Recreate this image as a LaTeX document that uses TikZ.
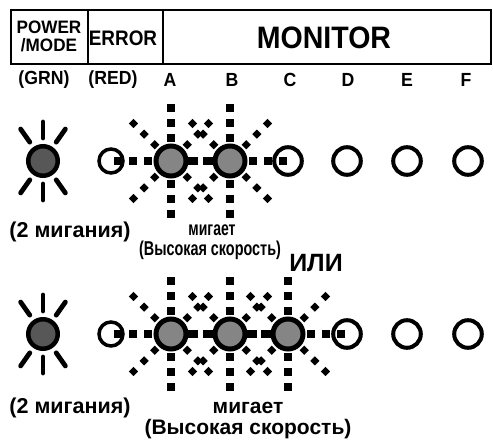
\documentclass[tikz,border=0pt]{standalone}
\usepackage{fontspec}
\setmainfont{Liberation Sans}
\usepackage{graphicx}
\usepackage{xcolor}

\definecolor{ledgray}{HTML}{858585}
\definecolor{grndark}{HTML}{575757}

\pgfdeclarelayer{back}
\pgfsetlayers{back,main}

\newcommand{\fsz}[1]{\fontsize{#1}{#1}\selectfont\bfseries}
\newcommand{\narrow}[2]{\scalebox{#1}[1]{#2}}
% slow blink: six short strokes
\newcommand{\slowrays}[1]{%
  \foreach \a in {55,90,125,235,270,305}
    {\draw[ray] ([shift={(\a:23)}]#1.center) -- ([shift={(\a:39)}]#1.center);}}
% fast blink: dotted star
\newcommand{\fastrays}[1]{%
  \foreach \d in {23,38,53}{
    \foreach \a in {0,90,180,270}
      {\node[sqdot] at ([shift={(\a:\d)}]#1.center) {};}
    \foreach \a in {45,135,225,315}
      {\node[dmdot] at ([shift={(\a:\d)}]#1.center) {};}
  }}

\begin{document}
\begin{tikzpicture}[x=1pt,y=-1pt,
  ledoff/.style={circle,draw,line width=4pt,minimum size=27.6pt,inner sep=0pt},
  ledred/.style={ledoff,line width=3.5pt,minimum size=24pt},
  ledon/.style={ledoff,line width=5pt,minimum size=30pt,fill=ledgray},
  ledgrn/.style={ledoff,line width=4.5pt,minimum size=29.5pt,fill=grndark},
  ray/.style={line width=4.8pt,line cap=round},
  sqdot/.style={fill,inner sep=0pt,minimum size=8pt},
  dmdot/.style={sqdot,minimum size=6.5pt,rotate=45},
  lbl/.style={font=\fsz{19}},
  txt/.style={inner sep=0.5pt}]
\useasboundingbox (0,0) rectangle (493,441);
% header
\draw[line width=2pt] (11,10) rectangle (491,64);
\draw[line width=1.2pt] (88,10) -- (88,64) (163,10) -- (163,64);
\node[font=\fsz{18},align=center] (pwr) at (49,36) {\narrow{0.95}{POWER}\\\narrow{0.95}{/MODE}};
\node[font=\fsz{21}] (err) at (123,38) {\narrow{0.9}{ERROR}};
\node[font=\fsz{31}] (mon) at (324,38) {\narrow{0.92}{MONITOR}};
\foreach \n/\x/\t in {grn/44/{(GRN)},red/113/{(RED)},A/170/A,B/232/B,C/290/C,D/348/D,E/407/E,F/466/F}
  \node[lbl] (l\n) at (\x,80) {\narrow{0.93}{\t}};
% LEDs
\foreach \r/\y in {1/161,2/334}{
  \node[ledgrn] (g\r) at (43,\y) {};
  \node[ledred] (r\r) at (111,\y) {};
  \node[ledon] (a\r) at (171,\y) {};
  \node[ledon] (b\r) at (230,\y) {};
}
\node[ledoff] (c1) at (288,161) {};
\node[ledon] (c2) at (288,334) {};
\foreach \r/\y in {1/161,2/334}
  \foreach \c/\x in {d/347,e/407,f/468}
    \node[ledoff] (\c\r) at (\x,\y) {};
\begin{pgfonlayer}{back}
  \foreach \n in {g1,g2} {\slowrays{\n}}
  \foreach \n in {a1,b1,a2,b2,c2} {\fastrays{\n}}
\end{pgfonlayer}
% texts
\node[txt,font=\fsz{21.5}] (blk1) at (70,232) {(2 мигания)};
\node[txt,font=\fsz{20}] (fst1) at (212,230) {\narrow{0.7}{мигает}};
\node[txt,font=\fsz{20}] (spd1) at (210,250) {\narrow{0.72}{(Высокая скорость)}};
\node[txt,font=\fsz{25}] (or) at (316,263) {ИЛИ};
\node[txt,font=\fsz{21.5}] (blk2) at (70,408) {(2 мигания)};
\node[txt,font=\fsz{21}] (fst2) at (248,408) {мигает};
\node[txt,font=\fsz{21}] (spd2) at (248,429) {(Высокая скорость)};
\end{tikzpicture}
\end{document}
